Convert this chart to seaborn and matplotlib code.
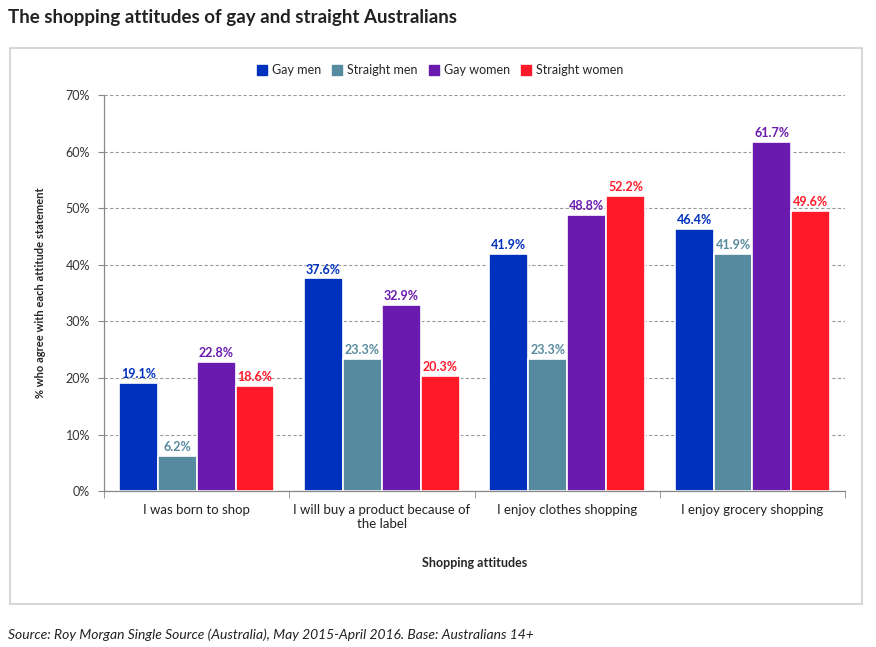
import pandas as pd
import seaborn as sns
import matplotlib.pyplot as plt
from matplotlib.patches import Rectangle
from matplotlib.lines import Line2D

# chart values
attitudes = ["I was born to shop", "I will buy a product because of\nthe label",
             "I enjoy clothes shopping", "I enjoy grocery shopping"]
groups = ["Gay men", "Straight men", "Gay women", "Straight women"]
gay_men = [19.1, 37.6, 41.9, 46.4]
straight_men = [6.2, 23.3, 23.3, 41.9]
gay_women = [22.8, 32.9, 48.8, 61.7]
straight_women = [18.6, 20.3, 52.2, 49.6]
colours = ["#0031BE", "#568A9E", "#6A1AAE", "#FF1A2A"]

df = pd.DataFrame({
    "attitude": attitudes * 4,
    "group": [g for g in groups for _ in attitudes],
    "pct": gay_men + straight_men + gay_women + straight_women,
})

sns.set_style("white")
plt.rcParams['font.family'] = ['Lato', 'DejaVu Sans']

fig = plt.figure(figsize=(8.76, 6.47), dpi=100)
ax = fig.add_axes([0.1187, 0.241, 0.846, 0.612])

sns.barplot(data=df, x="attitude", y="pct", hue="group", order=attitudes,
            hue_order=groups, palette=colours, width=0.84, saturation=1,
            edgecolor="white", linewidth=1.2, ax=ax)

for cont, col in zip(ax.containers, colours):
    ax.bar_label(cont, labels=[f"{v:.1f}%" for v in cont.datavalues], color=col,
                 fontsize=9, fontweight="bold", padding=2)

ax.set_ylim(0, 70)
ax.set_xlim(-0.5, 3.5)
ax.set_yticks(range(0, 71, 10))
ax.set_yticklabels([f"{v}%" for v in range(0, 71, 10)], fontsize=9, color="#333333")
ax.tick_params(axis="y", length=4, color="#888888", left=True, pad=6)
ax.tick_params(axis="x", length=0, labelsize=9.5, labelcolor="#222222", pad=9)
ax.set_xticks([-0.5, 0.5, 1.5, 2.5, 3.5], minor=True)
ax.tick_params(axis="x", which="minor", length=5, color="#888888", bottom=True)
ax.yaxis.grid(True, linestyle=(0, (3, 2)), color="#9a9a9a", linewidth=0.8)
ax.set_axisbelow(True)
for s in ["top", "right"]:
    ax.spines[s].set_visible(False)
for s in ["left", "bottom"]:
    ax.spines[s].set_color("#888888")
    ax.spines[s].set_linewidth(0.9)

ax.set_xlabel("Shopping attitudes", fontsize=9, fontweight="bold", labelpad=20)
ax.set_ylabel("% who agree with each attitude statement", fontsize=8,
              fontweight="bold", labelpad=14)

handles = [Line2D([], [], marker="s", linestyle="", markersize=6.5, color=c) for c in colours]
ax.legend(handles, groups, loc="lower center", bbox_to_anchor=(0.452, 1.02), ncol=4,
          frameon=False, fontsize=9, handletextpad=0.2, columnspacing=0.7,
          handlelength=1.2)

# outer frame around chart
fig.patches.append(Rectangle((10 / 876, 1 - 604 / 647), 852 / 876, 556 / 647,
                             transform=fig.transFigure, fill=False,
                             edgecolor="#cfcfcf", linewidth=1.2))

fig.text(8 / 876, 1 - 18 / 647, "The shopping attitudes of gay and straight Australians",
         fontsize=13.5, fontweight="bold", color="#222222", va="center")
fig.text(8 / 876, 1 - 635 / 647,
         "Source: Roy Morgan Single Source (Australia), May 2015-April 2016. Base: Australians 14+",
         fontsize=10, style="italic", color="#222222", va="center")

fig.savefig("out.png", dpi=100)
